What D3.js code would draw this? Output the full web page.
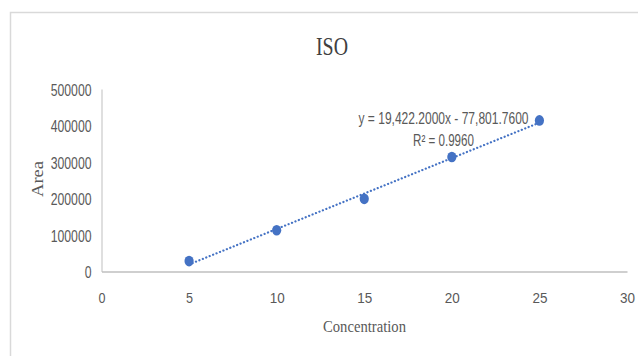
<!DOCTYPE html>
<html>
<head>
<meta charset="utf-8">
<script src="https://cdn.jsdelivr.net/npm/d3@7/dist/d3.min.js"></script>
<style>
  html, body { margin: 0; padding: 0; background: #fff; }
  svg { display: block; }
</style>
</head>
<body>
<svg id="chart" width="638" height="356"></svg>
<script>
// Calibration data: concentration vs. peak area
const concentration = [5, 10, 15, 20, 25];
const area = [28500, 113000, 199000, 313500, 414000];

// Linear trendline, as printed on the chart
const slope = 19422.2;
const intercept = -77801.76;
const equationLabel = "y = 19,422.2000x - 77,801.7600";
const r2Label = "R² = 0.9960";

const xTicks = [0, 5, 10, 15, 20, 25, 30];
const yTicks = [0, 100000, 200000, 300000, 400000, 500000];

const title = "ISO";
const xTitle = "Concentration";
const yTitle = "Area";

const svg = d3.select("#chart");
const blue = "#4472C4";
const textGray = "#595959";

// Chart frame
svg.append("rect")
  .attr("x", 10.5).attr("y", 12.5)
  .attr("width", 660).attr("height", 380)
  .attr("fill", "#fff").attr("stroke", "#d9d9d9").attr("stroke-width", 1.5);

const x = d3.scaleLinear().domain([0, 30]).range([101.5, 627]);
const y = d3.scaleLinear().domain([0, 500000]).range([271.5, 89]);

// Condensed text helper: squeezes glyphs to a fixed width
function label(sel, txt, px, py, width, opts) {
  const t = sel.append("text")
    .attr("x", px).attr("y", py)
    .attr("fill", opts.fill || textGray)
    .attr("font-family", opts.family || "'Liberation Sans', Arial, sans-serif")
    .attr("font-size", opts.size)
    .attr("text-anchor", opts.anchor || "middle")
    .attr("lengthAdjust", "spacingAndGlyphs")
    .attr("textLength", width);
  if (opts.transform) t.attr("transform", opts.transform);
  t.text(txt);
  return t;
}

// Axes
const xAxis = d3.axisBottom(x).tickValues(xTicks).tickSize(0).tickPadding(0);
const gx = svg.append("g").attr("transform", `translate(0,${y(0)})`).call(xAxis);
gx.select(".domain").attr("stroke", "#bfbfbf").attr("stroke-width", 1.5);
gx.selectAll(".tick text").remove();
gx.selectAll(".tick").each(function(d) {
  const w = String(d).length === 1 ? 7 : 15;
  label(d3.select(this), String(d), 0, 31, w, { size: 15.5 });
});

const yAxis = d3.axisLeft(y).tickValues(yTicks).tickSize(0).tickPadding(0);
const gy = svg.append("g").attr("transform", `translate(${x(0)},0)`).call(yAxis);
gy.select(".domain").attr("stroke", "#bfbfbf").attr("stroke-width", 1);
gy.selectAll(".tick text").remove();
gy.selectAll(".tick").each(function(d) {
  const s = String(d);
  label(d3.select(this), s, -10, 6, s.length * 6.8, { size: 16, anchor: "end" });
});

// Trendline (dotted)
const trendX = [d3.min(concentration), d3.max(concentration)];
svg.append("line")
  .attr("x1", x(trendX[0])).attr("y1", y(slope * trendX[0] + intercept))
  .attr("x2", x(trendX[1])).attr("y2", y(slope * trendX[1] + intercept))
  .attr("stroke", blue).attr("stroke-width", 2.2)
  .attr("stroke-dasharray", "0.1 3.6").attr("stroke-linecap", "round");

// Data points
svg.append("g").selectAll("ellipse")
  .data(concentration.map((c, i) => [c, area[i]]))
  .join("ellipse")
  .attr("cx", d => x(d[0])).attr("cy", d => y(d[1]))
  .attr("rx", 4.6).attr("ry", 5.3)
  .attr("fill", blue);

// Trendline equation and R²
label(svg, equationLabel, 443.5, 123.5, 170, { size: 16 });
label(svg, r2Label, 443.5, 146, 61, { size: 16 });

// Titles
const serif = "'Liberation Serif', 'Times New Roman', serif";
label(svg, title, 332, 55, 32, { size: 26, family: serif, fill: "#404040" });
label(svg, xTitle, 364.5, 332, 83, { size: 17, family: serif });
label(svg, yTitle, 0, 0, 36, { size: 17, family: serif,
  transform: `translate(43,179) rotate(-90)` });
</script>
</body>
</html>
